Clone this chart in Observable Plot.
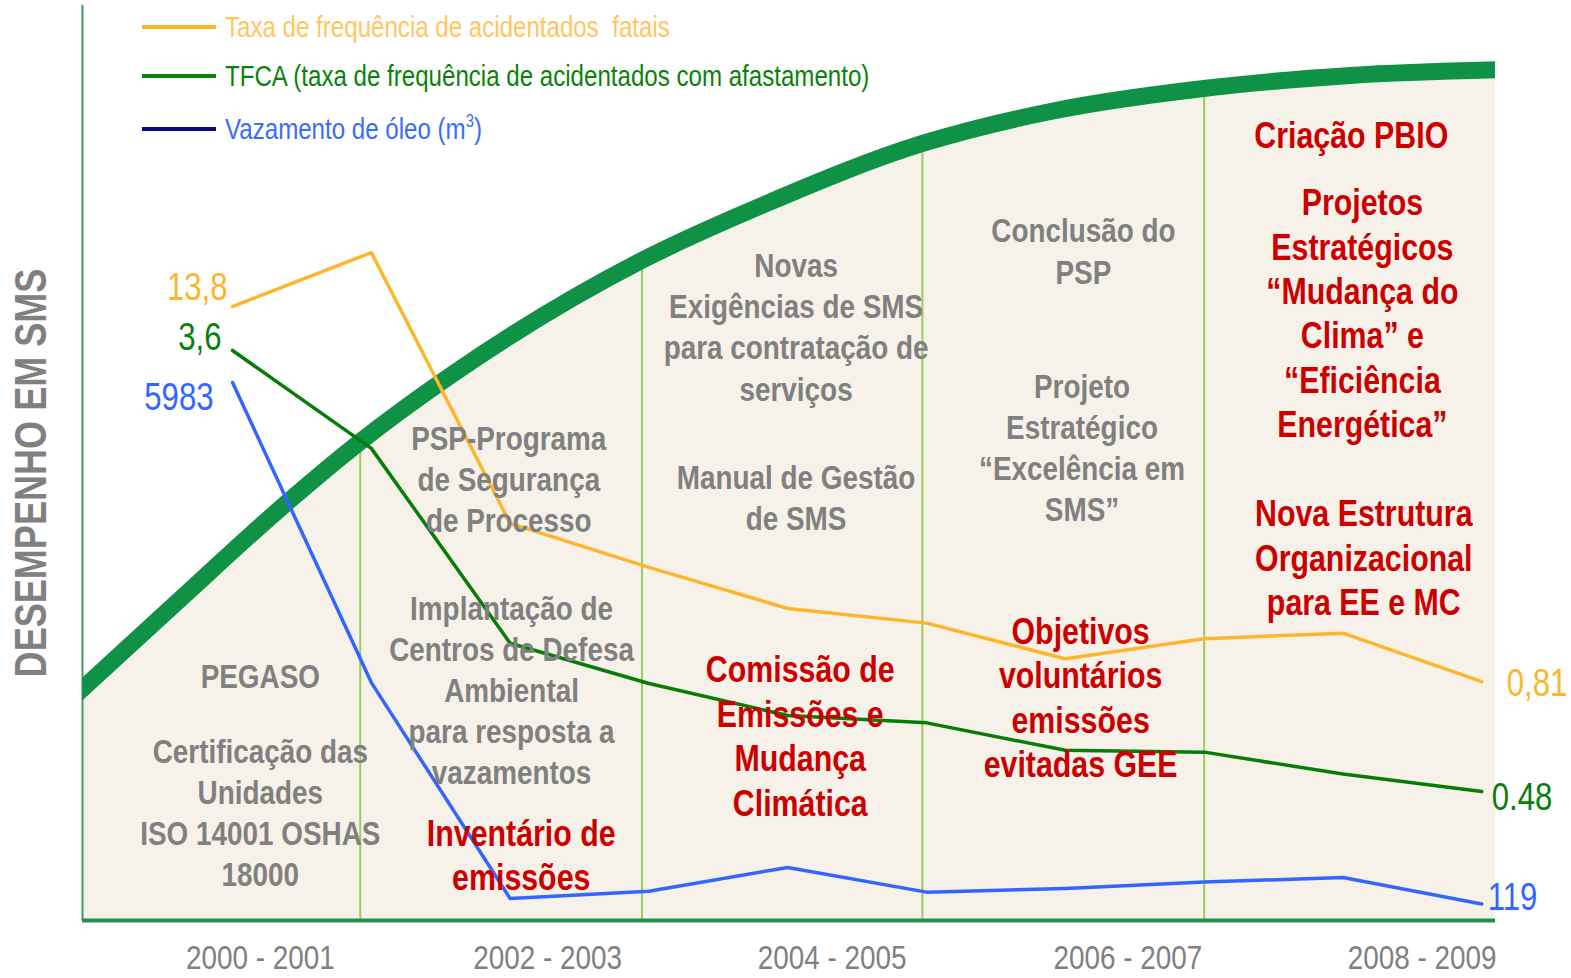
<!DOCTYPE html>
<html><head><meta charset="utf-8">
<script src="https://cdn.jsdelivr.net/npm/d3@7"></script>
<script src="https://cdn.jsdelivr.net/npm/@observablehq/plot@0.6"></script>
<style>
html,body{margin:0;padding:0;background:#fff;}
#wrap{position:relative;width:1571px;height:978px;overflow:hidden;font-family:'Liberation Sans Narrow','Liberation Sans',Arial,sans-serif;}
.leg{position:absolute;left:142px;height:40px;display:flex;align-items:center;white-space:pre;font-size:29.4px;}
.leg .sw{width:74px;height:4px;margin-right:9px;flex:none;}
.leg .tx{display:inline-block;transform:scaleX(0.82);transform-origin:0 50%;}
.leg sup{font-size:18px;vertical-align:12px;line-height:0;}
</style></head><body><div id="wrap"></div>
<script>
const FONT = "'Liberation Sans','Arial',sans-serif";
const NARROW = 0.82; // Arial Narrow look from Liberation Sans

// ---- data (performance index, 0–100) ----
const years = [2000, 2001, 2002, 2003, 2004, 2005, 2006, 2007, 2008, 2009];
const taxaFatais = [67.1, 73.0, 43.4, 38.6, 34.1, 32.5, 28.6, 30.8, 31.4, 26.1];
const tfca       = [62.3, 51.6, 30.3, 25.9, 22.4, 21.6, 18.6, 18.4, 16.0, 14.1];
const vazamento  = [58.8, 26.0, 2.4, 3.2, 5.8, 3.1, 3.5, 4.2, 4.7, 1.8];
const seriesNames = ["Taxa de frequência de acidentados  fatais", "TFCA (taxa de frequência de acidentados com afastamento)", "Vazamento de óleo (m3)"];
const startLabels = ["13,8", "3,6", "5983"];
const endLabels = ["0,81", "0.48", "119"];

// performance curve (year, index)
const curveYears = [1998.804, 1999.589, 2000.360, 2000.922, 2001.571, 2002.947, 2003.847, 2004.971, 2005.893, 2006.996, 2008.055, 2009.207];
const curveValues = [23.72, 34.64, 45.25, 52.35, 59.56, 72.13, 78.36, 84.92, 88.42, 90.93, 92.35, 93.01];

// periods
const periodLabels = ["2000 - 2001", "2002 - 2003", "2004 - 2005", "2006 - 2007", "2008 - 2009"];
const periodCenters = [2000.20, 2002.27, 2004.32, 2006.45, 2008.57];
const dividers = [2000.92, 2002.95, 2004.97, 2007.00];

// annotations
const grayNotes = ["PEGASO", "Certificação das\nUnidades\nISO 14001 OSHAS\n18000", "PSP-Programa\nde Segurança\nde Processo",
  "Implantação de\nCentros de Defesa\nAmbiental\npara resposta a\nvazamentos", "Novas\nExigências de SMS\npara contratação de\nserviços",
  "Manual de Gestão\nde SMS", "Conclusão do\nPSP", "Projeto\nEstratégico\n“Excelência em\nSMS”"];
const grayNoteYear = [2000.20, 2000.20, 2001.99, 2002.01, 2004.06, 2004.06, 2006.13, 2006.12];
const grayNoteLevel = [26.8, 11.9, 48.4, 25.3, 65.0, 46.4, 73.3, 51.8];
const redNotes = ["Inventário de\nemissões", "Comissão de\nEmissões e\nMudança\nClimática", "Objetivos\nvoluntários\nemissões\nevitadas GEE",
  "Criação PBIO", "Projetos\nEstratégicos\n“Mudança do\nClima” e\n“Eficiência\nEnergética”", "Nova Estrutura\nOrganizacional\npara EE e MC"];
const redNoteYear = [2002.08, 2004.09, 2006.11, 2008.06, 2008.14, 2008.15];
const redNoteLevel = [7.3, 20.3, 24.5, 86.0, 66.5, 39.8];

// ---- styles ----
const lineColors = ["#fdb62c", "#077d07", "#3366ff"];
const labelColors = ["#fcb52e", "#0a7d0a", "#3366ff"];
const legendLineColors = ["#fdb62c", "#0b820b", "#0a0a78"];
const legendTextColors = ["#ffc660", "#0a820a", "#3a6cff"];
const startOffsets = [[-5, -19], [-11, -13], [-19, 15]];
const endOffsets = [[25, 2], [10, 6], [6, -6]];

const allValues = [taxaFatais, tfca, vazamento];
const rows = allValues.flatMap((vals, s) => years.map((yr, i) => ({year: yr, v: vals[i], s})));
const arc = curveYears.map((t, i) => ({t, v: curveValues[i]}));
const xDomain = [1998.919, 2009.099];

const marks = [
  Plot.areaY(arc, {x: "t", y1: 0, y2: "v", curve: "monotone-x", fill: "#f6f2e9", clip: true}),
  Plot.ruleX(dividers, {y1: 0, y2: 100, stroke: "#9acb5e", strokeWidth: 2}),
  Plot.areaY(arc, {x: "t", y1: "v", y2: 100, curve: "monotone-x", fill: "#ffffff", clip: true}),
  Plot.ruleX([xDomain[0]], {y1: 0, y2: 100, stroke: "#3c9c5f", strokeWidth: 2}),
  Plot.line(arc, {x: "t", y: "v", curve: "monotone-x", stroke: "#0f9146", strokeWidth: 17, clip: true}),
  Plot.ruleY([0], {stroke: "#24904a", strokeWidth: 4}),
  Plot.line(rows, {x: "year", y: "v", z: "s", stroke: d => lineColors[d.s], strokeWidth: 3.5, strokeLinejoin: "round"})
];
allValues.forEach((vals, s) => {
  marks.push(Plot.text([{year: years[0], v: vals[0]}], {x: "year", y: "v", text: () => startLabels[s], textAnchor: "end",
    dx: startOffsets[s][0], dy: startOffsets[s][1], fill: labelColors[s], fontSize: 38}));
  const n = years.length - 1;
  marks.push(Plot.text([{year: years[n], v: vals[n]}], {x: "year", y: "v", text: () => endLabels[s], textAnchor: "start",
    dx: endOffsets[s][0], dy: endOffsets[s][1], fill: labelColors[s], fontSize: 38}));
});
marks.push(
  Plot.text(grayNotes, {x: grayNoteYear, y: grayNoteLevel, text: d => d, fill: "#808080", fontSize: 34, fontWeight: "bold", lineHeight: 1.21}),
  Plot.text(redNotes, {x: redNoteYear, y: redNoteLevel, text: d => d, fill: "#cc0000", fontSize: 37, fontWeight: "bold", lineHeight: 1.2}),
  Plot.text(periodLabels, {x: periodCenters, frameAnchor: "bottom", lineAnchor: "middle", dy: 38, fill: "#808080", fontSize: 34}),
  Plot.text(["DESEMPENHO EM SMS"], {frameAnchor: "left", textAnchor: "middle", lineAnchor: "middle", dx: -51, dy: 10, rotate: -90, fill: "#808080", fontSize: 44, fontWeight: "bold"})
);

const chart = Plot.plot({
  width: 1571, height: 978,
  marginTop: 5, marginBottom: 58, marginLeft: 82, marginRight: 76,
  x: {domain: xDomain, axis: null},
  y: {domain: [0, 100], axis: null},
  style: {fontFamily: FONT, background: "transparent", overflow: "visible"},
  marks
});

// narrow the text horizontally (Arial Narrow look)
chart.querySelectorAll("text").forEach(el => {
  const tr = el.getAttribute("transform");
  if (tr) {
    el.setAttribute("transform", tr + ` scale(${NARROW},1)`);
  } else {
    const x = +(el.getAttribute("x") || 0), y = +(el.getAttribute("y") || 0);
    el.removeAttribute("x"); el.removeAttribute("y");
    el.querySelectorAll("tspan").forEach(t => { if (t.getAttribute("x") != null) t.setAttribute("x", 0); });
    el.setAttribute("transform", `translate(${x},${y}) scale(${NARROW},1)`);
  }
});

const wrap = document.getElementById("wrap");
wrap.appendChild(chart);

// legend overlay
const legendCenters = [27, 76, 129];
seriesNames.forEach((name, s) => {
  const row = document.createElement("div");
  row.className = "leg";
  row.style.top = (legendCenters[s] - 20) + "px";
  const sw = document.createElement("span");
  sw.className = "sw";
  sw.style.background = legendLineColors[s];
  const tx = document.createElement("span");
  tx.className = "tx";
  tx.style.color = legendTextColors[s];
  if (name.endsWith("(m3)")) {
    tx.textContent = name.slice(0, -2);
    const sup = document.createElement("sup"); sup.textContent = "3";
    tx.appendChild(sup);
    tx.appendChild(document.createTextNode(")"));
  } else tx.textContent = name;
  row.appendChild(sw); row.appendChild(tx);
  wrap.appendChild(row);
});
</script></body></html>
